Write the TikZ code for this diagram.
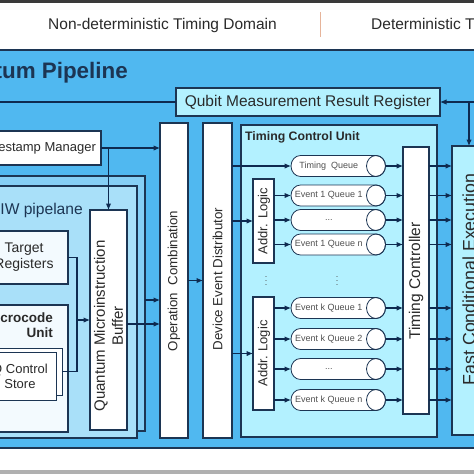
\documentclass[tikz,border=0pt]{standalone}
\usepackage{fontspec}
\setmainfont{Liberation Sans}
\usetikzlibrary{arrows.meta}
\definecolor{bgblue}{HTML}{50B8F0}
\definecolor{edgec}{HTML}{1C3553}
\definecolor{arrc}{HTML}{0E2A50}
\definecolor{vbackc}{HTML}{86CFF5}
\definecolor{vfrontc}{HTML}{A9E0F9}
\definecolor{cyanf}{HTML}{B3F1FF}
\definecolor{paleb}{HTML}{F3FAFE}
\definecolor{txt}{HTML}{2A2A2A}
\definecolor{qtxt}{HTML}{505050}
\definecolor{sepc}{HTML}{E6B49A}
\definecolor{topbar}{HTML}{3A3A3A}
\definecolor{botbar}{HTML}{B0B0B0}
\newcommand\myfs[1]{\fontsize{#1}{#1}\selectfont}
\newcommand\mylfs[2]{\fontsize{#1}{#2}\selectfont}
\begin{document}
\begin{tikzpicture}[x=1pt,y=-1pt,
  edge/.style={draw=edgec, line width=1.2pt},
  anybox/.style={edge, inner sep=0pt, outer sep=0pt, text=txt},
  wbox/.style={anybox, fill=white},
  cbox/.style={anybox, fill=cyanf},
  pbox/.style={anybox, fill=paleb},
  arr/.style={draw=arrc, line width=1.1pt, -{Latex[length=6.5pt,width=5.5pt]}},
  ln/.style={draw=arrc, line width=1.1pt},
  hdr/.style={text=txt, font=\myfs{15.5}, inner sep=0pt},
  qshape/.style={fill=white, draw=edgec, line width=0.8pt},
  qedge/.style={draw=edgec, line width=0.8pt},
  qlab/.style={draw=none, minimum width=75.5pt, minimum height=21pt, inner sep=0pt, outer sep=0pt, text=qtxt, font=\myfs{9}},
  rot/.style={rotate=90, align=center},
  dotn/.style={text=qtxt, font=\myfs{9}, inner sep=0pt}
]
\useasboundingbox (0,0) rectangle (474,474);
\fill[white] (0,0) rectangle (474,474);
\fill[topbar] (0,0) rectangle (474,2.5);
\fill[botbar] (0,469.5) rectangle (474,474);
% headers
\node[hdr] (h1) at (162.5,25) {Non-deterministic Timing Domain};
\node[hdr, anchor=west] (h2) at (371,25) {Deterministic Timing Domain};
\draw[sepc, line width=1pt] (320,12) -- (320,37);
% pipeline area
\draw[edge, fill=bgblue] (-10,50) rectangle (484,448);
\node[anchor=east, inner sep=0pt, text=edgec, font=\bfseries\myfs{22.4}] (ttl) at (128,73) {Quantum Pipeline};
% register
\node[cbox, minimum width=264pt, minimum height=28pt, font=\myfs{15.5}] (qreg) at (308,102) {Qubit Measurement Result Register};
% timestamp manager
\node[wbox, minimum width=129pt, minimum height=34pt, font=\myfs{13}] (ts) at (36.5,148) {Timestamp Manager};
% VLIW stack
\node[anybox, fill=vbackc, minimum width=165pt, minimum height=255pt] (vb) at (62.5,303.5) {};
\node[anybox, fill=vfrontc, minimum width=165pt, minimum height=252pt] (vf) at (54.5,312) {};
\node[anchor=east, inner sep=0pt, text=edgec, font=\myfs{15.6}] (vlab) at (83,210) {VLIW pipelane};
\node[pbox, minimum width=82pt, minimum height=53pt] (tr) at (27,257.5) {};
\node[inner sep=0pt, align=center, text=txt, font=\mylfs{14}{16}] (trlab) at (24,257.5) {Target\\Registers};
\node[pbox, minimum width=82pt, minimum height=127pt] (mu) at (27,368.5) {};
\node[anchor=east, inner sep=0pt, align=right, text=txt, font=\bfseries\mylfs{13.5}{15}] (mulab) at (53,325) {Microcode\\Unit};
\node[wbox, line width=0.8pt, minimum width=72pt, minimum height=47pt] (csb) at (26,371.5) {};
\node[wbox, line width=0.8pt, minimum width=72pt, minimum height=48pt, align=center, font=\mylfs{13}{15}] (csf) at (20,376) {Q Control\\Store};
\node[wbox, line width=1.5pt, minimum width=37pt, minimum height=220pt] (buf) at (108.5,320) {};
\node[rot, inner sep=0pt, text=txt, font=\mylfs{15}{18}] (buflab) at (108.5,326) {Quantum Microinstruction\\Buffer};
% combination / distributor
\node[wbox, minimum width=28pt, minimum height=315pt] (oc) at (174,280.5) {};
\node[rot, inner sep=0pt, text=txt, font=\myfs{13.3}] (oclab) at (174,281) {Operation\ \ Combination};
\node[wbox, minimum width=29pt, minimum height=315pt] (ded) at (217.5,280.5) {};
\node[rot, inner sep=0pt, text=txt, font=\myfs{13.3}] (dedlab) at (217.5,279) {Device Event Distributor};
% timing control unit
\node[cbox, minimum width=196pt, minimum height=312pt] (tcu) at (339,281) {};
\node[anchor=west, inner sep=0pt, text=txt, font=\bfseries\myfs{12.3}] (tculab) at (245,137) {Timing Control Unit};
\node[wbox, minimum width=21pt, minimum height=84pt] (al1) at (263.5,221) {};
\node[rot, inner sep=0pt, text=txt, font=\myfs{13}] (al1lab) at (264,221) {Addr. Logic};
\node[wbox, minimum width=21pt, minimum height=113pt] (al2) at (263.5,353.5) {};
\node[rot, inner sep=0pt, text=txt, font=\myfs{13}] (al2lab) at (264,353.5) {Addr. Logic};
\node[wbox, minimum width=26pt, minimum height=267pt] (tc) at (416,280.5) {};
\node[rot, inner sep=0pt, text=txt, font=\myfs{15.5}] (tclab) at (416,281) {Timing Controller};
% fast conditional execution
\node[cbox, minimum width=48pt, minimum height=289pt] (fce) at (476,290.5) {};
\node[rot, inner sep=0pt, text=txt, font=\myfs{17.8}] (fcelab) at (469,279.5) {Fast Conditional Execution};
% queues
\foreach \y in {166,195.5,220,244.5,308,339,369,400}{
  \path[qshape] (300.5,\y-10.5) -- (376,\y-10.5) arc[start angle=90, end angle=-90, x radius=9.5pt, y radius=10.5pt] -- (300.5,\y+10.5) arc[start angle=270, end angle=90, x radius=9.5pt, y radius=10.5pt] -- cycle;
  \draw[qedge] (376,\y) ellipse [x radius=9.5pt, y radius=10.5pt];
}
\node[qlab] (tq) at (328.75,166) {Timing\ \ Queue};
\node[qlab] (e11) at (328.75,195.5) {Event 1 Queue 1};
\node[qlab] (e1d) at (328.75,220) {...};
\node[qlab] (e1n) at (328.75,244.5) {Event 1 Queue n};
\node[qlab] (ek1) at (328.75,308) {Event k Queue 1};
\node[qlab] (ek2) at (328.75,339) {Event k Queue 2};
\node[qlab] (ekd) at (328.75,369) {...};
\node[qlab] (ekn) at (328.75,400) {Event k Queue n};
\node[dotn] (dt1) at (266,278) {$\vdots$};
\node[dotn] (dt2) at (337,278) {$\vdots$};
% connectors
\coordinate (rin) at (480,102);
\coordinate (rj) at (469,102);
\coordinate (lin) at (-5,102);
\draw[arr] (rin) -- (qreg.east);
\draw[arr] (rj) -- (rj |- fce.north);
\draw[ln] (lin) -- (qreg.west);
\draw[arr] (ts.east) -- (ts.east -| oc.west);
\draw[arr] (ts.east -| buf.north) -- (buf.north);
\coordinate (jn) at (77,320);
\draw[ln] (tr.east) -| (jn);
\draw[ln] (csb.east) -| (jn);
\draw[arr] (jn) -- (buf.west);
\draw[arr] ([yshift=-4pt]buf.east) -- ([yshift=-4pt]buf.east -| oc.west);
\draw[arr] (vb.east |- 0,300) -- (oc.west |- 0,300);
\draw[arr] (oc.east) -- (ded.west);
\draw[arr] (ded.east |- tq.west) -- (tq.west);
\draw[arr] (ded.east |- al1.west) -- (al1.west);
\draw[arr] (ded.east |- al2.west) -- (al2.west);
\foreach \q in {e11,e1d,e1n} \draw[arr] (al1.east |- \q.west) -- (\q.west);
\foreach \q in {ek1,ek2,ekd,ekn} \draw[arr] (al2.east |- \q.west) -- (\q.west);
\foreach \q in {tq,e11,e1d,e1n,ek1,ek2,ekd,ekn}{
  \draw[arr] ([xshift=19pt]\q.east) -- (tc.west |- \q.east);
  \draw[arr] (tc.east |- \q.east) -- (fce.west |- \q.east);
}
\end{tikzpicture}
\end{document}
